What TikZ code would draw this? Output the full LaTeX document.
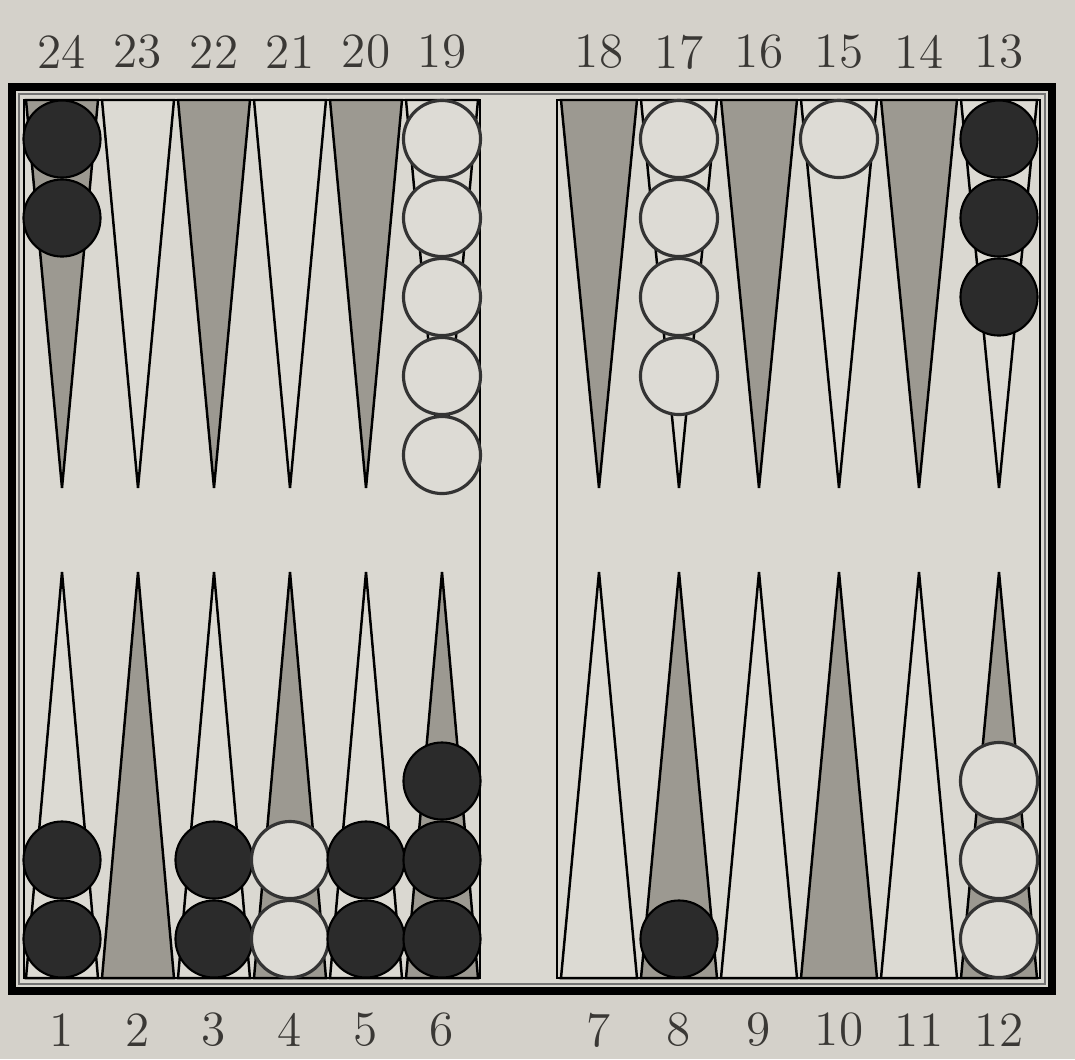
\documentclass[tikz,border=0pt]{standalone}
\usepackage{tikz}

\definecolor{paper}{HTML}{D4D1CA}
\definecolor{boardbg}{HTML}{DAD8D1}
\definecolor{ptdark}{HTML}{9C9991}
\definecolor{ptlight}{HTML}{DCDAD3}
\definecolor{manblack}{HTML}{2B2B2B}
\definecolor{manwhite}{HTML}{DDDBD5}
\definecolor{numgray}{HTML}{3A3835}

\begin{document}
\begin{tikzpicture}[x=0.01cm, y=-0.01cm,
    darkpt/.style={fill=ptdark, draw=black, line width=0.7pt},
    lightpt/.style={fill=ptlight, draw=black, line width=0.7pt},
    blackman/.style={circle, fill=manblack, draw=black, line width=0.6pt, minimum size=0.77cm, inner sep=0pt},
    whiteman/.style={circle, fill=manwhite, draw=black!80, line width=0.9pt, minimum size=0.77cm, inner sep=0pt},
    ptnum/.style={font=\fontsize{14}{16}\selectfont, text=numgray, inner sep=0pt}]
    \fill[paper] (0,0) rectangle (1075,1059);
    \useasboundingbox (0,0) rectangle (1075,1059);

    % Board frame
    \fill[boardbg] (12,87) rectangle (1052,991);
    \draw[line width=2.2pt] (12,87) rectangle (1052,991);
    \draw[line width=0.5pt, black!55] (19,94) rectangle (1045,984);
    \draw[line width=0.8pt] (24,100) rectangle (480,978);
    \draw[line width=0.8pt] (557,100) rectangle (1040,978);

    % Top points
    \filldraw[darkpt]  (26,100) -- (98,100) -- (62,488) -- cycle;
    \filldraw[lightpt] (102,100) -- (174,100) -- (138,488) -- cycle;
    \filldraw[darkpt]  (178,100) -- (250,100) -- (214,488) -- cycle;
    \filldraw[lightpt] (254,100) -- (326,100) -- (290,488) -- cycle;
    \filldraw[darkpt]  (330,100) -- (402,100) -- (366,488) -- cycle;
    \filldraw[lightpt] (406,100) -- (478,100) -- (442,488) -- cycle;
    \filldraw[darkpt]  (561,100) -- (637,100) -- (599,488) -- cycle;
    \filldraw[lightpt] (641,100) -- (717,100) -- (679,488) -- cycle;
    \filldraw[darkpt]  (721,100) -- (797,100) -- (759,488) -- cycle;
    \filldraw[lightpt] (801,100) -- (877,100) -- (839,488) -- cycle;
    \filldraw[darkpt]  (881,100) -- (957,100) -- (919,488) -- cycle;
    \filldraw[lightpt] (961,100) -- (1037,100) -- (999,488) -- cycle;

    % Bottom points
    \filldraw[lightpt] (26,978) -- (98,978) -- (62,572) -- cycle;
    \filldraw[darkpt]  (102,978) -- (174,978) -- (138,572) -- cycle;
    \filldraw[lightpt] (178,978) -- (250,978) -- (214,572) -- cycle;
    \filldraw[darkpt]  (254,978) -- (326,978) -- (290,572) -- cycle;
    \filldraw[lightpt] (330,978) -- (402,978) -- (366,572) -- cycle;
    \filldraw[darkpt]  (406,978) -- (478,978) -- (442,572) -- cycle;
    \filldraw[lightpt] (561,978) -- (637,978) -- (599,572) -- cycle;
    \filldraw[darkpt]  (641,978) -- (717,978) -- (679,572) -- cycle;
    \filldraw[lightpt] (721,978) -- (797,978) -- (759,572) -- cycle;
    \filldraw[darkpt]  (801,978) -- (877,978) -- (839,572) -- cycle;
    \filldraw[lightpt] (881,978) -- (957,978) -- (919,572) -- cycle;
    \filldraw[darkpt]  (961,978) -- (1037,978) -- (999,572) -- cycle;

    % Checkers, top
    \node[blackman] (b24a) at (62,139) {};
    \node[blackman] (b24b) at (62,218) {};
    \node[whiteman] (w19a) at (442,139) {};
    \node[whiteman] (w19b) at (442,218) {};
    \node[whiteman] (w19c) at (442,297) {};
    \node[whiteman] (w19d) at (442,376) {};
    \node[whiteman] (w19e) at (442,455) {};
    \node[whiteman] (w17a) at (679,139) {};
    \node[whiteman] (w17b) at (679,218) {};
    \node[whiteman] (w17c) at (679,297) {};
    \node[whiteman] (w17d) at (679,376) {};
    \node[whiteman] (w15a) at (839,139) {};
    \node[blackman] (b13a) at (999,139) {};
    \node[blackman] (b13b) at (999,218) {};
    \node[blackman] (b13c) at (999,297) {};

    % Checkers, bottom
    \node[blackman] (b1a) at (62,939) {};
    \node[blackman] (b1b) at (62,860) {};
    \node[blackman] (b3a) at (214,939) {};
    \node[blackman] (b3b) at (214,860) {};
    \node[whiteman] (w4a) at (290,939) {};
    \node[whiteman] (w4b) at (290,860) {};
    \node[blackman] (b5a) at (366,939) {};
    \node[blackman] (b5b) at (366,860) {};
    \node[blackman] (b6a) at (442,939) {};
    \node[blackman] (b6b) at (442,860) {};
    \node[blackman] (b6c) at (442,781) {};
    \node[blackman] (b8a) at (679,939) {};
    \node[whiteman] (w12a) at (999,939) {};
    \node[whiteman] (w12b) at (999,860) {};
    \node[whiteman] (w12c) at (999,781) {};

    % Point numbers
    \node[ptnum] (n24) at (62,52) {24};
    \node[ptnum] (n23) at (138,52) {23};
    \node[ptnum] (n22) at (214,52) {22};
    \node[ptnum] (n21) at (290,52) {21};
    \node[ptnum] (n20) at (366,52) {20};
    \node[ptnum] (n19) at (442,52) {19};
    \node[ptnum] (n18) at (599,52) {18};
    \node[ptnum] (n17) at (679,52) {17};
    \node[ptnum] (n16) at (759,52) {16};
    \node[ptnum] (n15) at (839,52) {15};
    \node[ptnum] (n14) at (919,52) {14};
    \node[ptnum] (n13) at (999,52) {13};
    \node[ptnum] (n1) at (62,1030) {1};
    \node[ptnum] (n2) at (138,1030) {2};
    \node[ptnum] (n3) at (214,1030) {3};
    \node[ptnum] (n4) at (290,1030) {4};
    \node[ptnum] (n5) at (366,1030) {5};
    \node[ptnum] (n6) at (442,1030) {6};
    \node[ptnum] (n7) at (599,1030) {7};
    \node[ptnum] (n8) at (679,1030) {8};
    \node[ptnum] (n9) at (759,1030) {9};
    \node[ptnum] (n10) at (839,1030) {10};
    \node[ptnum] (n11) at (919,1030) {11};
    \node[ptnum] (n12) at (999,1030) {12};
\end{tikzpicture}
\end{document}
